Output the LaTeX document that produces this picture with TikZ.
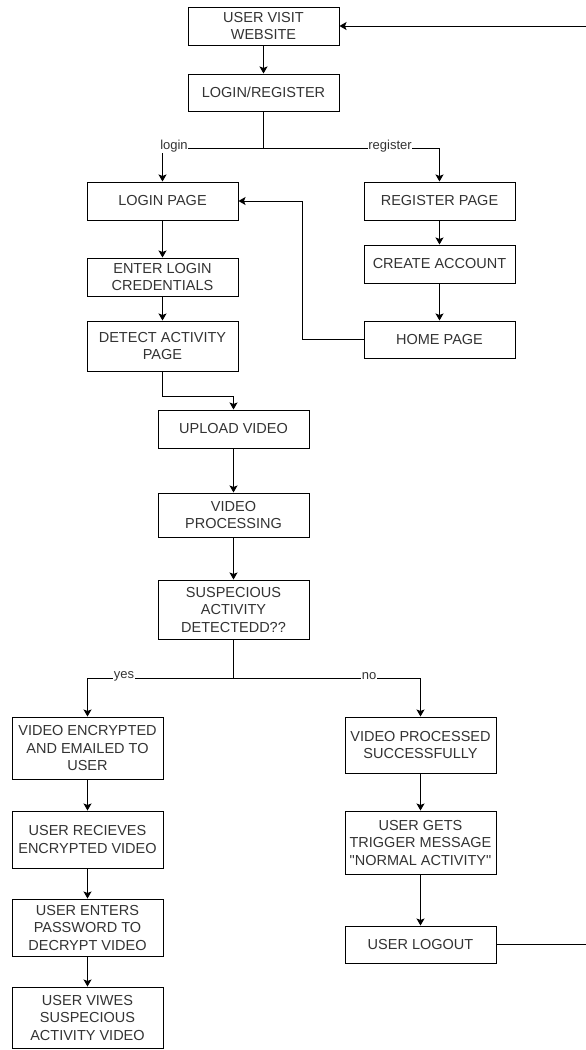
\documentclass[tikz,border=0pt]{standalone}
\usepackage{fontspec}
\setmainfont{Liberation Sans}[Ligatures=TeXOff]
\usetikzlibrary{arrows.meta}
\definecolor{txt}{HTML}{333333}
\begin{document}
\begin{tikzpicture}[x=1pt,y=-1pt,
  box/.style={draw=black,line width=1pt,fill=white,align=center,text=txt,
    font=\fontsize{14.5}{17.5}\selectfont,inner sep=0pt,anchor=center},
  conn/.style={line width=1pt,draw=black},
  arr/.style={conn,-{Stealth[length=7pt,width=8pt,inset=1.5pt]}},
  lbl/.style={fill=white,inner sep=0.5pt,text=txt,font=\fontsize{13}{15}\selectfont}]
\useasboundingbox (0,0) rectangle (586,1050);
\newcommand{\bx}[7]{\node[box,minimum width=#4-#2,minimum height=#5-#3] (#1) at ({(#2+#4)/2},{(#3+#5)/2}) {#6};}
\bx{visit}{188}{7}{339}{45}{USER VISIT\\WEBSITE}{}
\bx{logreg}{188}{74}{339}{111}{LOGIN/REGISTER}{}
\bx{loginp}{87}{182}{238}{220}{LOGIN PAGE}{}
\bx{cred}{87}{258}{238}{296}{ENTER LOGIN\\CREDENTIALS}{}
\bx{detect}{87}{321}{238}{371}{DETECT ACTIVITY\\PAGE}{}
\bx{regp}{364}{182}{515}{220}{REGISTER PAGE}{}
\bx{create}{364}{245}{515}{283}{CREATE ACCOUNT}{}
\bx{home}{364}{321}{515}{358}{HOME PAGE}{}
\bx{upload}{158}{410}{309}{448}{UPLOAD VIDEO}{}
\bx{proc}{158}{493}{309}{537}{VIDEO\\PROCESSING}{}
\bx{susp}{158}{580}{309}{639}{SUSPECIOUS\\ACTIVITY\\DETECTEDD??}{}
\bx{enc}{12}{717}{163}{779}{VIDEO ENCRYPTED\\AND EMAILED TO\\USER}{}
\bx{recv}{12}{811}{163}{868}{USER RECIEVES\\ENCRYPTED VIDEO}{}
\bx{pass}{12}{899}{163}{956}{USER ENTERS\\PASSWORD TO\\DECRYPT VIDEO}{}
\bx{views}{12}{987}{163}{1048}{USER VIWES\\SUSPECIOUS\\ACTIVITY VIDEO}{}
\bx{ok}{345}{717}{496}{773}{VIDEO PROCESSED\\SUCCESSFULLY}{}
\bx{trig}{345}{811}{496}{874}{USER GETS\\TRIGGER MESSAGE\\"NORMAL ACTIVITY"}{}
\bx{logout}{345}{926}{496}{963}{USER LOGOUT}{}
\coordinate (rtop) at (586,26);
\coordinate (rbot) at (586,944.5);
% top
\draw[arr] (visit) -- (logreg);
\draw[arr] (logreg.south) |- (162.5,148) -- (loginp.north);
\draw[arr] (logreg.south) |- (439.5,148) -- (regp.north);
\node[lbl] (llogin) at (174,146) {login};
\node[lbl] (lreg) at (390,146) {register};
\draw[arr] (loginp) -- (cred);
\draw[arr] (cred) -- (detect);
\draw[arr] (regp) -- (create);
\draw[arr] (create) -- (home);
\draw[arr] (home.west) -- (302,339.5) |- (loginp.east);
\draw[arr] (detect.south) -- (162.5,396) -| (upload.north);
\draw[arr] (upload) -- (proc);
\draw[arr] (proc) -- (susp);
\draw[arr] (susp.south) |- (87.5,678) -- (enc.north);
\draw[arr] (susp.south) |- (420.5,678) -- (ok.north);
\node[lbl] (lyes) at (124,676) {yes};
\node[lbl] (lno) at (369,676) {no};
\draw[arr] (enc) -- (recv);
\draw[arr] (recv) -- (pass);
\draw[arr] (pass) -- (views);
\draw[arr] (ok) -- (trig);
\draw[arr] (trig) -- (logout);
\draw[conn] (logout.east) -- (rbot);
\draw[arr] (rtop) -- (visit.east);
\end{tikzpicture}
\end{document}
